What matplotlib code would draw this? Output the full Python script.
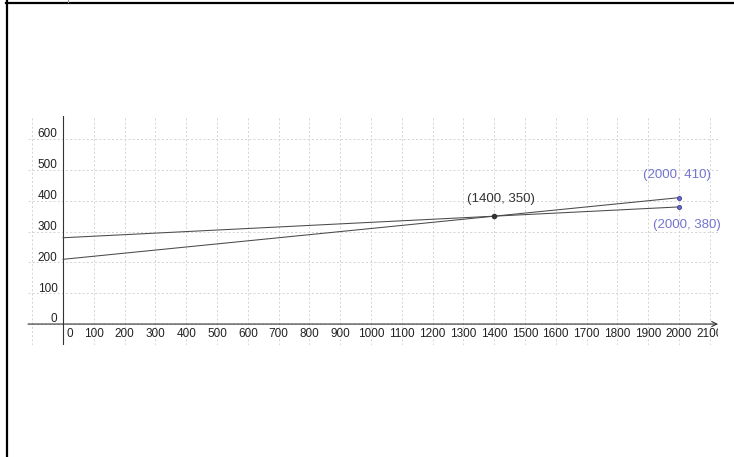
import matplotlib
matplotlib.use("Agg")
import matplotlib.pyplot as plt
from matplotlib.lines import Line2D

plt.rcParams['font.family'] = ['Liberation Sans', 'DejaVu Sans']

# data
x_ticks = list(range(0, 2200, 100))
y_ticks = list(range(0, 700, 100))
line_a_x = [0, 2000]
line_a_y = [280, 380]
line_b_x = [0, 2000]
line_b_y = [210, 410]
cross_pt = (1400, 350)
end_pts = [(2000, 410), (2000, 380)]
end_labels = ["(2000, 410)", "(2000, 380)"]

W, H = 734, 457
fig = plt.figure(figsize=(W / 100, H / 100), dpi=100)
fig.patch.set_facecolor('white')

# graphics view area (pixels): x 28..718, y 116..345
ax = fig.add_axes([28 / W, 1 - 345 / H, (718 - 28) / W, (345 - 116) / H])
ax.set_xlim(-114, 2127)
ax.set_ylim(-68, 675)
for s in ax.spines.values():
    s.set_visible(False)
ax.set_xticks([])
ax.set_yticks([])

# grid
grid_kw = dict(color='#cfcfcf', lw=0.6, ls=(0, (2.5, 2.5)), zorder=0)
for gx in range(-100, 2200, 100):
    ax.axvline(gx, **grid_kw)
for gy in y_ticks:
    ax.axhline(gy, **grid_kw)

# axes
ax.axvline(0, color='#333333', lw=0.8, zorder=2)
ax.annotate('', xy=(2127, 0), xytext=(-114, 0),
            arrowprops=dict(arrowstyle='->', lw=0.8, color='#333333',
                            shrinkA=0, shrinkB=0, mutation_scale=9),
            annotation_clip=False, zorder=2)

# tick labels
for t in x_ticks:
    if t == 0:
        ax.annotate('0', (0, 0), xytext=(2.3, -9.6), textcoords='offset points',
                    ha='left', va='baseline', fontsize=8.5, color='#222222')
    else:
        lbl = ax.annotate(str(t), (t, 0), xytext=(0, -9.6),
                          textcoords='offset points', ha='center',
                          va='baseline', fontsize=8.5, color='#222222',
                          annotation_clip=False)
        # the last label gets cut at the edge of the view
        lbl.set_clip_path(ax.patch)
        lbl.set_clip_on(True)
for t in y_ticks:
    ax.annotate(str(t), (0, t), xytext=(-4, 1.2), textcoords='offset points',
                ha='right', va='baseline', fontsize=8.5, color='#222222')

# lines
ax.plot(line_a_x, line_a_y, color='#4a4a4a', lw=0.75, zorder=3)
ax.plot(line_b_x, line_b_y, color='#4a4a4a', lw=0.75, zorder=3)

# points
ax.plot(*cross_pt, 'o', ms=3, color='#333333', zorder=4)
ax.annotate("(%d, %d)" % cross_pt, cross_pt, xytext=(-19.5, 10.5),
            textcoords='offset points', ha='left', va='baseline',
            fontsize=9.5, color='#333333')
for (px, py), lab, off in zip(end_pts, end_labels, [(-26, 14.5), (-19, -15.5)]):
    ax.plot(px, py, 'o', ms=3, mfc='#6666cc', mec='#44448f', mew=0.6, zorder=4)
    ax.annotate(lab, (px, py), xytext=off, textcoords='offset points',
                ha='left', va='baseline', fontsize=9.5, color='#7474d0',
                annotation_clip=False)

# outer frame (left and top edges)
fig.add_artist(Line2D([7 / W, 7 / W], [0, 1], color='black', lw=1.6,
                      transform=fig.transFigure))
fig.add_artist(Line2D([6 / W, 1], [1 - 3 / H, 1 - 3 / H], color='black', lw=1.6,
                      transform=fig.transFigure))
fig.add_artist(Line2D([68 / W, 68 / W], [1 - 2 / H, 1], color='#999999', lw=0.8,
                      transform=fig.transFigure))

fig.savefig('out.png', dpi=100)
